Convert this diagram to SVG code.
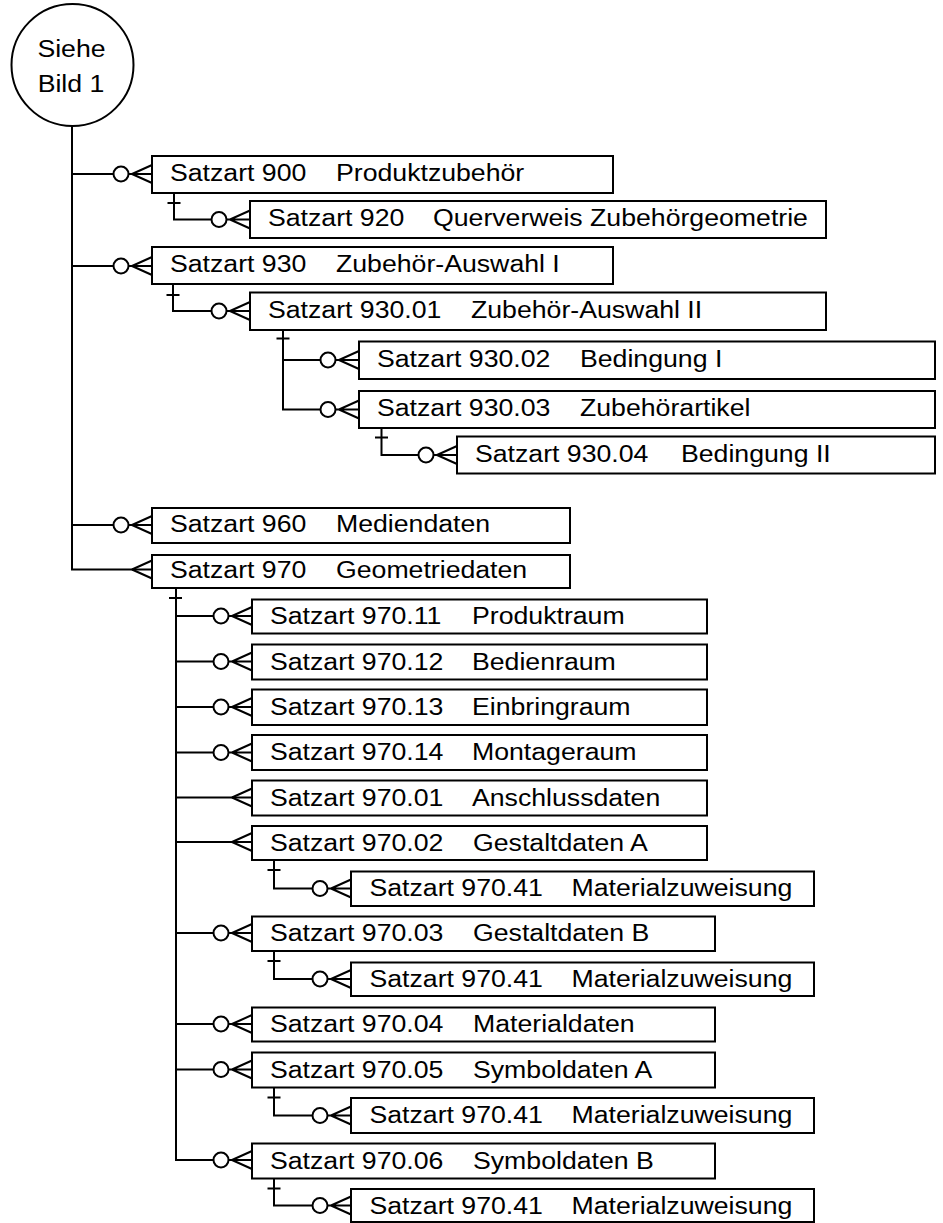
<svg xmlns="http://www.w3.org/2000/svg" xmlns:xlink="http://www.w3.org/1999/xlink" width="943" height="1223" viewBox="0 0 943 1223">
<style>
.box{fill:#fff;stroke:#000;stroke-width:2}
.ln{fill:none;stroke:#000;stroke-width:2}
.t{font-family:"Liberation Sans",Arial,sans-serif;font-size:23px;fill:#000}
.tc{font-family:"Liberation Sans",Arial,sans-serif;font-size:23px;fill:#000;text-anchor:middle}
</style>
<defs>
<g id="cf0">
<circle cx="-31" cy="0" r="7.5" fill="#fff" stroke="#000" stroke-width="2"/>
<path d="M-23.5,0 H0 M-20,0 L0,-9 M-20,0 L0,9" fill="none" stroke="#000" stroke-width="2"/>
</g>
<g id="cf">
<path d="M-20,0 L0,-9 M-20,0 L0,9" fill="none" stroke="#000" stroke-width="2"/>
</g>
</defs>
<rect width="943" height="1223" fill="#fff"/>

<g id="connectors">
<path class="ln" d="M72,126 V569.5 H152 M72,174 H113.5 M72,266 H113.5 M72,525 H113.5"/>
<path class="ln" d="M174,193 V219.5 H211.5 M167.5,203 H180.5"/>
<path class="ln" d="M173,284 V311 H211.5 M166.5,295 H179.5"/>
<path class="ln" d="M283,330 V409.5 H320.5 M283,360 H320.5 M276.5,338.5 H289.5"/>
<path class="ln" d="M381.5,428 V455 H418.5 M375,437.5 H388"/>
<path class="ln" d="M176,588 V1160 H213.5 M169,598 H182 M176,616 H213.5 M176,661.5 H213.5 M176,707 H213.5 M176,752.5 H213.5 M176,797.5 H252 M176,842 H252 M176,933 H213.5 M176,1024 H213.5 M176,1069.5 H213.5"/>
<path class="ln" d="M274,860 V888.5 H312.5 M267.5,870 H280.5"/>
<path class="ln" d="M274,951 V979 H312.5 M267.5,961 H280.5"/>
<path class="ln" d="M274,1087.5 V1115.5 H312.5 M267.5,1097.5 H280.5"/>
<path class="ln" d="M274,1178.5 V1205.5 H312.5 M267.5,1188.5 H280.5"/>
<use xlink:href="#cf0" x="152" y="174"/>
<use xlink:href="#cf0" x="250" y="219.5"/>
<use xlink:href="#cf0" x="152" y="266"/>
<use xlink:href="#cf0" x="250" y="311"/>
<use xlink:href="#cf0" x="359" y="360"/>
<use xlink:href="#cf0" x="359" y="409.5"/>
<use xlink:href="#cf0" x="457" y="455"/>
<use xlink:href="#cf0" x="152" y="525"/>
<use xlink:href="#cf" x="152" y="569.5"/>
<use xlink:href="#cf0" x="252" y="616"/>
<use xlink:href="#cf0" x="252" y="661.5"/>
<use xlink:href="#cf0" x="252" y="707"/>
<use xlink:href="#cf0" x="252" y="752.5"/>
<use xlink:href="#cf" x="252" y="797.5"/>
<use xlink:href="#cf" x="252" y="842"/>
<use xlink:href="#cf0" x="351" y="888.5"/>
<use xlink:href="#cf0" x="252" y="933"/>
<use xlink:href="#cf0" x="351" y="979"/>
<use xlink:href="#cf0" x="252" y="1024"/>
<use xlink:href="#cf0" x="252" y="1069.5"/>
<use xlink:href="#cf0" x="351" y="1115.5"/>
<use xlink:href="#cf0" x="252" y="1160"/>
<use xlink:href="#cf0" x="351" y="1205.5"/>
</g>

<g id="n-bild1">
<circle cx="72.5" cy="65" r="61" fill="#fff" stroke="#000" stroke-width="2"/>
<text class="tc" transform="translate(71.5,57.3) scale(1.16 1)">Siehe</text>
<text class="tc" transform="translate(71,92.3) scale(1.16 1)">Bild 1</text>
</g>

<g id="n900">
<rect class="box" x="152" y="156" width="461" height="37"/>
<text class="t" transform="translate(170,181) scale(1.16 1)">Satzart 900</text>
<text class="t" transform="translate(336,181) scale(1.16 1)">Produktzubehör</text>
</g>
<g id="n920">
<rect class="box" x="250" y="201" width="576" height="37"/>
<text class="t" transform="translate(268,226) scale(1.16 1)">Satzart 920</text>
<text class="t" transform="translate(433,226) scale(1.16 1)">Querverweis Zubehörgeometrie</text>
</g>
<g id="n930">
<rect class="box" x="152" y="247" width="461" height="37"/>
<text class="t" transform="translate(170,272) scale(1.16 1)">Satzart 930</text>
<text class="t" transform="translate(336,272) scale(1.16 1)">Zubehör-Auswahl I</text>
</g>
<g id="n930-01">
<rect class="box" x="250" y="292.5" width="576" height="37.5"/>
<text class="t" transform="translate(268,317.5) scale(1.16 1)">Satzart 930.01</text>
<text class="t" transform="translate(471,317.5) scale(1.16 1)">Zubehör-Auswahl II</text>
</g>
<g id="n930-02">
<rect class="box" x="359" y="341.5" width="576" height="37.5"/>
<text class="t" transform="translate(377,366.5) scale(1.16 1)">Satzart 930.02</text>
<text class="t" transform="translate(580,366.5) scale(1.16 1)">Bedingung I</text>
</g>
<g id="n930-03">
<rect class="box" x="359" y="391" width="576" height="37"/>
<text class="t" transform="translate(377,416) scale(1.16 1)">Satzart 930.03</text>
<text class="t" transform="translate(580,416) scale(1.16 1)">Zubehörartikel</text>
</g>
<g id="n930-04">
<rect class="box" x="457" y="436.5" width="478" height="37"/>
<text class="t" transform="translate(475,461.5) scale(1.16 1)">Satzart 930.04</text>
<text class="t" transform="translate(681,461.5) scale(1.16 1)">Bedingung II</text>
</g>
<g id="n960">
<rect class="box" x="152" y="508" width="418" height="35"/>
<text class="t" transform="translate(170,532) scale(1.16 1)">Satzart 960</text>
<text class="t" transform="translate(336,532) scale(1.16 1)">Mediendaten</text>
</g>
<g id="n970">
<rect class="box" x="152" y="555" width="418" height="33"/>
<text class="t" transform="translate(170,578) scale(1.16 1)">Satzart 970</text>
<text class="t" transform="translate(336,578) scale(1.16 1)">Geometriedaten</text>
</g>
<g id="n970-11">
<rect class="box" x="252" y="599.5" width="455" height="34"/>
<text class="t" transform="translate(270,624) scale(1.16 1)">Satzart 970.11</text>
<text class="t" transform="translate(472,624) scale(1.16 1)">Produktraum</text>
</g>
<g id="n970-12">
<rect class="box" x="252" y="644.5" width="455" height="35"/>
<text class="t" transform="translate(270,669.5) scale(1.16 1)">Satzart 970.12</text>
<text class="t" transform="translate(472,669.5) scale(1.16 1)">Bedienraum</text>
</g>
<g id="n970-13">
<rect class="box" x="252" y="689.5" width="455" height="35.5"/>
<text class="t" transform="translate(270,714.5) scale(1.16 1)">Satzart 970.13</text>
<text class="t" transform="translate(472,714.5) scale(1.16 1)">Einbringraum</text>
</g>
<g id="n970-14">
<rect class="box" x="252" y="735" width="455" height="35"/>
<text class="t" transform="translate(270,760) scale(1.16 1)">Satzart 970.14</text>
<text class="t" transform="translate(472,760) scale(1.16 1)">Montageraum</text>
</g>
<g id="n970-01">
<rect class="box" x="252" y="780.5" width="455" height="35"/>
<text class="t" transform="translate(270,805.5) scale(1.16 1)">Satzart 970.01</text>
<text class="t" transform="translate(472,805.5) scale(1.16 1)">Anschlussdaten</text>
</g>
<g id="n970-02">
<rect class="box" x="252" y="826" width="455" height="34"/>
<text class="t" transform="translate(270,850.5) scale(1.16 1)">Satzart 970.02</text>
<text class="t" transform="translate(473,850.5) scale(1.16 1)">Gestaltdaten A</text>
</g>
<g id="n970-41a">
<rect class="box" x="351" y="871.5" width="463" height="34.5"/>
<text class="t" transform="translate(369.5,896) scale(1.16 1)">Satzart 970.41</text>
<text class="t" transform="translate(571.5,896) scale(1.16 1)">Materialzuweisung</text>
</g>
<g id="n970-03">
<rect class="box" x="252" y="916.5" width="463" height="34.5"/>
<text class="t" transform="translate(270,941) scale(1.16 1)">Satzart 970.03</text>
<text class="t" transform="translate(473,941) scale(1.16 1)">Gestaltdaten B</text>
</g>
<g id="n970-41b">
<rect class="box" x="351" y="962.5" width="463" height="33.5"/>
<text class="t" transform="translate(369.5,987) scale(1.16 1)">Satzart 970.41</text>
<text class="t" transform="translate(571.5,987) scale(1.16 1)">Materialzuweisung</text>
</g>
<g id="n970-04">
<rect class="box" x="252" y="1007.5" width="463" height="34"/>
<text class="t" transform="translate(270,1032) scale(1.16 1)">Satzart 970.04</text>
<text class="t" transform="translate(473,1032) scale(1.16 1)">Materialdaten</text>
</g>
<g id="n970-05">
<rect class="box" x="252" y="1052.5" width="463" height="35"/>
<text class="t" transform="translate(270,1077.5) scale(1.16 1)">Satzart 970.05</text>
<text class="t" transform="translate(473,1077.5) scale(1.16 1)">Symboldaten A</text>
</g>
<g id="n970-41c">
<rect class="box" x="351" y="1098" width="463" height="35"/>
<text class="t" transform="translate(369.5,1123) scale(1.16 1)">Satzart 970.41</text>
<text class="t" transform="translate(571.5,1123) scale(1.16 1)">Materialzuweisung</text>
</g>
<g id="n970-06">
<rect class="box" x="252" y="1143.5" width="463" height="35"/>
<text class="t" transform="translate(270,1168.5) scale(1.16 1)">Satzart 970.06</text>
<text class="t" transform="translate(473,1168.5) scale(1.16 1)">Symboldaten B</text>
</g>
<g id="n970-41d">
<rect class="box" x="351" y="1189" width="463" height="33"/>
<text class="t" transform="translate(369.5,1214) scale(1.16 1)">Satzart 970.41</text>
<text class="t" transform="translate(571.5,1214) scale(1.16 1)">Materialzuweisung</text>
</g>
</svg>
